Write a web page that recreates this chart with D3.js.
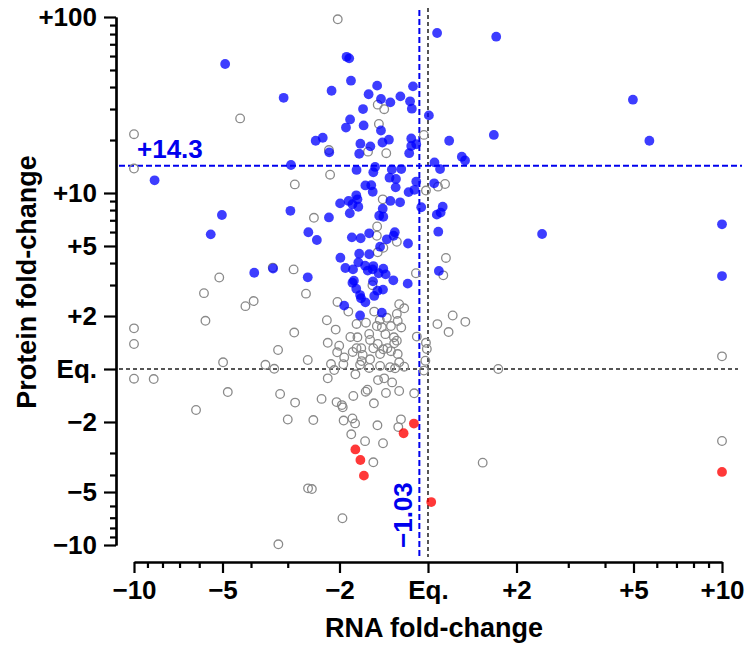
<!DOCTYPE html>
<html>
<head>
<meta charset="utf-8">
<script src="https://cdn.jsdelivr.net/npm/d3@7"></script>
<style>
  html, body { margin: 0; padding: 0; background: #fff; }
  svg { display: block; font-family: "Liberation Sans", Arial, sans-serif; font-weight: bold; }
</style>
</head>
<body>
<div id="chart"></div>
<script>
// every point is [rna, protein], both as signed log10 fold-change (0 = Eq.)

// protein up above the cut-off (blue)
const upPoints = [
  [0.031,1.909],[-0.277,1.774],[-0.268,1.765],[-0.262,1.638],[-0.328,1.581],[-0.491,1.541],
  [-0.173,1.610],[-0.202,1.561],[-0.160,1.534],[-0.128,1.515],[-0.094,1.549],[-0.051,1.606],
  [-0.061,1.521],[-0.055,1.479],[-0.221,1.477],[-0.265,1.418],[0.003,1.441],[-0.279,1.372],
  [-0.219,1.384],[-0.160,1.355],[-0.382,1.297],[-0.358,1.314],[-0.336,1.231],[-0.230,1.280],
  [-0.196,1.265],[-0.234,1.223],[-0.155,1.287],[-0.133,1.303],[-0.057,1.310],[-0.057,1.267],
  [-0.040,1.277],[-0.064,1.226],[-0.466,1.159],[-0.243,1.131],[-0.180,1.148],[-0.186,1.118],
  [-0.123,1.134],[-0.091,1.136],[0.022,1.174],[0.041,1.136],[-0.131,1.087],[-0.109,1.080],
  [-0.213,1.043],[-0.193,1.044],[-0.188,1.007],[-0.110,1.032],[-0.040,1.065],[-0.066,1.005],
  [-0.046,1.018],[0.021,1.055],[-0.244,0.987],[-0.240,0.964],[-0.299,0.941],[-0.270,0.955],
  [-0.257,0.936],[-0.237,0.922],[-0.266,0.885],[-0.468,0.899],[-0.337,0.861],[-0.128,0.955],
  [-0.095,0.947],[-0.154,0.911],[-0.166,0.871],[-0.152,0.865],[-0.023,0.919],[0.030,0.877],
  [0.050,0.922],[0.043,0.889],[0.035,0.780],[0.037,0.557],[0.072,1.297],[0.115,1.206],
  [0.126,1.185],[-0.407,0.777],[-0.378,0.733],[-0.259,0.748],[-0.229,0.743],[-0.200,0.771],
  [-0.113,0.777],[-0.117,0.757],[-0.140,0.737],[-0.068,0.713],[-0.163,0.695],[-0.234,0.655],
  [-0.200,0.652],[-0.298,0.632],[-0.237,0.606],[-0.281,0.574],[-0.255,0.566],[-0.214,0.587],
  [-0.186,0.585],[-0.188,0.566],[-0.152,0.570],[-0.205,0.559],[-0.168,0.544],[-0.144,0.538],
  [-0.187,0.498],[-0.118,0.504],[-0.069,0.485],[-0.252,0.502],[-0.257,0.490],[-0.409,0.521],
  [-0.244,0.456],[-0.172,0.445],[-0.153,0.451],[-0.231,0.420],[-0.228,0.402],[-0.183,0.415],
  [-0.213,0.379],[-0.285,0.360],[-0.157,0.320],[-0.231,0.304],[-0.591,0.547],[-0.527,0.571],
  [-0.690,1.733],[-0.930,1.072],[-0.701,0.875],[-0.739,0.765],[0.232,1.888],[0.697,1.530],
  [0.224,1.330],[0.753,1.297],[0.388,0.767],[1.000,0.822],[1.000,0.528]
];

// protein down (red)
const downPoints = [
  [-0.048,-0.310],[-0.083,-0.365],[-0.247,-0.457],[-0.230,-0.517],[-0.218,-0.606],
  [0.011,-0.756],[1.000,-0.585]
];

// everything else (open grey)
const otherPoints = [
  [-0.307,1.987],[-0.171,1.502],[-0.149,1.476],[-0.167,1.392],[-0.014,1.330],[-0.337,1.244],
  [-0.204,1.235],[-0.142,1.226],[-0.333,1.104],[-0.453,1.049],[-0.007,1.014],[-0.154,0.964],
  [-0.388,0.859],[-0.173,0.810],[0.058,1.051],[0.034,1.036],[0.061,0.631],[0.052,0.532],
  [-0.639,1.424],[-1.000,1.334],[-1.000,1.139],[-0.710,0.520],[-0.762,0.431],[-0.621,0.357],
  [-0.593,0.386],[-0.757,0.274],[-1.000,0.231],[-1.000,0.142],[-0.697,0.038],[-0.553,0.024],
  [-0.523,0.001],[-0.510,0.108],[-1.000,-0.055],[-0.933,-0.057],[-0.681,-0.131],[-0.503,-0.142],
  [-0.789,-0.233],[-0.477,-0.287],[-0.509,-0.996],[-0.528,0.576],[-0.174,0.757],[-0.106,0.723],
  [-0.152,0.689],[-0.171,0.663],[-0.041,0.544],[-0.457,0.566],[-0.415,0.428],[-0.308,0.381],
  [-0.271,0.326],[-0.189,0.476],[-0.098,0.368],[-0.081,0.345],[-0.183,0.326],[-0.106,0.313],
  [-0.344,0.277],[-0.314,0.224],[-0.455,0.207],[-0.243,0.256],[-0.211,0.263],[-0.164,0.278],
  [-0.140,0.291],[-0.174,0.244],[-0.157,0.237],[-0.126,0.244],[-0.091,0.236],[-0.103,0.273],
  [-0.200,0.199],[-0.145,0.198],[-0.264,0.182],[-0.240,0.180],[0.032,0.255],[0.084,0.304],
  [0.127,0.268],[0.070,0.210],[-0.341,0.149],[-0.302,0.132],[-0.038,0.184],[-0.007,0.149],
  [-0.004,0.114],[-0.009,0.047],[-0.014,-0.009],[-0.309,0.095],[-0.256,0.097],[-0.227,0.118],
  [-0.222,0.080],[-0.197,0.165],[-0.171,0.142],[-0.152,0.112],[-0.138,0.118],[-0.115,0.146],
  [-0.106,0.161],[-0.163,0.085],[-0.126,0.101],[-0.103,0.085],[-0.285,0.066],[-0.197,0.055],
  [-0.226,0.045],[-0.409,0.051],[-0.330,0.028],[-0.288,0.027],[-0.231,0.024],[-0.163,0.017],
  [-0.129,0.010],[-0.112,0.004],[-0.098,0.038],[-0.081,0.013],[-0.319,-0.006],[-0.200,0.006],
  [-0.247,-0.030],[-0.341,-0.053],[-0.170,-0.063],[-0.149,-0.053],[-0.122,-0.076],[-0.452,-0.191],
  [-0.362,-0.170],[-0.311,-0.188],[-0.293,-0.205],[-0.290,-0.218],[-0.254,-0.153],[-0.212,-0.129],
  [-0.206,-0.118],[-0.143,-0.136],[-0.098,-0.125],[-0.047,-0.138],[-0.184,-0.195],[-0.390,-0.290],
  [-0.287,-0.293],[-0.257,-0.281],[-0.248,-0.309],[-0.172,-0.320],[-0.092,-0.286],[-0.101,-0.330],
  [-0.261,-0.371],[-0.214,-0.410],[-0.153,-0.422],[-0.186,-0.530],[-0.408,-0.678],[-0.395,-0.682],
  [-0.291,-0.848],[0.239,0.000],[0.186,-0.532],[1.000,0.072],[1.000,-0.409],[-0.243,0.118],
  [-0.186,0.118],[-0.116,0.180]
];

// ticks, written as signed fold-change
const xMinorTicks = [-9, -8, -7, -6, -4, -3, 3, 4, 6, 7, 8, 9];
const xMajorTicks = [-10, -5, -2, 1, 2, 5, 10];
const xTickLabels = ['\u221210', '\u22125', '\u22122', 'Eq.', '+2', '+5', '+10'];
const yMinorTicks = [-9, -8, -7, -6, -4, -3, 3, 4, 6, 7, 8, 9, 20, 30, 40, 50, 60, 70, 80, 90];
const yMajorTicks = [-10, -5, -2, 1, 2, 5, 10, 100];
const yTickLabels = ['\u221210', '\u22125', '\u22122', 'Eq.', '+2', '+5', '+10', '+100'];

// cut-off lines
const proteinCutoff = 14.3;
const proteinCutoffLabel = '+14.3';
const rnaCutoff = -1.07;
const rnaCutoffLabel = '\u22121.03';

// signed fold-change -> log10
const slog = v => v < 0 ? -Math.log10(-v) : Math.log10(v);

class FoldChart {

  constructor({ id, width, height }) {
    this.domId = id;
    this.width = width || 748;
    this.height = height || 645;
    this._init();
  }

  render() {
    this._drawAxes();
    this._drawGuides();
    this._drawPoints();
    this._drawTitles();
  }

  _init() {
    this.x = d3.scaleLinear().domain([-1, 1]).range([134, 722]);
    this.y = d3.scaleLinear().domain([-1, 2]).range([545, 17]);
    this.xAxisY = 562;
    this.yAxisX = 116;

    this.svg = d3.select(`#${this.domId}`)
        .append('svg')
        .attr('width', this.width)
        .attr('height', this.height);
  }

  _drawAxes() {
    const { x, y, svg } = this;
    const style = g => {
      g.selectAll('path, line').attr('stroke', '#000').attr('stroke-width', 2.2);
      g.selectAll('text')
          .attr('fill', '#000')
          .style('font-size', '26px')
          .style('font-family', '"Liberation Sans", Arial, sans-serif')
          .style('font-weight', 'bold');
    };

    // x axis: minor then major
    svg.append('g')
        .attr('transform', `translate(0,${this.xAxisY})`)
        .call(d3.axisBottom(x).tickValues(xMinorTicks.map(slog))
            .tickSize(6).tickSizeOuter(0).tickFormat(''))
        .call(style);
    svg.append('g')
        .attr('transform', `translate(0,${this.xAxisY})`)
        .call(d3.axisBottom(x).tickValues(xMajorTicks.map(slog))
            .tickSize(11).tickSizeOuter(0).tickPadding(8)
            .tickFormat((d, i) => xTickLabels[i]))
        .call(style);

    // y axis
    svg.append('g')
        .attr('transform', `translate(${this.yAxisX},0)`)
        .call(d3.axisLeft(y).tickValues(yMinorTicks.map(slog))
            .tickSize(6).tickSizeOuter(0).tickFormat(''))
        .call(style);
    svg.append('g')
        .attr('transform', `translate(${this.yAxisX},0)`)
        .call(d3.axisLeft(y).tickValues(yMajorTicks.map(slog))
            .tickSize(12).tickSizeOuter(0).tickPadding(7)
            .tickFormat((d, i) => yTickLabels[i]))
        .call(style);
  }

  _drawGuides() {
    const { x, y, svg } = this;
    const g = svg.append('g');
    const left = this.yAxisX + 3;
    const top = y.range()[1] - 8;
    const bottom = this.xAxisY - 5;

    // Eq. lines
    g.append('line')
        .attr('x1', left).attr('x2', x.range()[1] + 16)
        .attr('y1', y(0)).attr('y2', y(0))
        .attr('stroke', '#555').attr('stroke-width', 2).attr('stroke-dasharray', '4,3');
    g.append('line')
        .attr('x1', x(0)).attr('x2', x(0))
        .attr('y1', top - 1).attr('y2', bottom)
        .attr('stroke', '#555').attr('stroke-width', 2).attr('stroke-dasharray', '4,3');

    // cut-offs
    const yc = y(slog(proteinCutoff));
    g.append('line')
        .attr('x1', left).attr('x2', x.range()[1] + 20)
        .attr('y1', yc).attr('y2', yc)
        .attr('stroke', '#0000ee').attr('stroke-width', 2).attr('stroke-dasharray', '6,3');
    const xc = x(slog(rnaCutoff));
    g.append('line')
        .attr('x1', xc).attr('x2', xc)
        .attr('y1', top + 1).attr('y2', bottom)
        .attr('stroke', '#0000ee').attr('stroke-width', 2).attr('stroke-dasharray', '6,3');

    g.append('text')
        .attr('x', left + 18).attr('y', yc - 8)
        .attr('fill', '#0000ee')
        .style('font-size', '26px')
        .text(proteinCutoffLabel);
    g.append('text')
        .attr('transform', `translate(${xc - 7},${bottom - 9}) rotate(-90)`)
        .attr('fill', '#0000ee')
        .style('font-size', '26px')
        .text(rnaCutoffLabel);
  }

  _drawPoints() {
    const { x, y, svg } = this;

    svg.append('g').selectAll('circle')
        .data(otherPoints)
        .join('circle')
        .attr('cx', d => x(d[0]))
        .attr('cy', d => y(d[1]))
        .attr('r', 4.3)
        .attr('fill', 'none')
        .attr('stroke', '#8a8a8a')
        .attr('stroke-width', 1.3);

    svg.append('g').selectAll('circle')
        .data(upPoints)
        .join('circle')
        .attr('cx', d => x(d[0]))
        .attr('cy', d => y(d[1]))
        .attr('r', 4.9)
        .attr('fill', '#0000ff')
        .attr('fill-opacity', 0.76);

    svg.append('g').selectAll('circle')
        .data(downPoints)
        .join('circle')
        .attr('cx', d => x(d[0]))
        .attr('cy', d => y(d[1]))
        .attr('r', 4.9)
        .attr('fill', '#ff0000')
        .attr('fill-opacity', 0.78);
  }

  _drawTitles() {
    const { svg } = this;
    svg.append('text')
        .attr('x', d3.mean(this.x.range()) + 6).attr('y', 637)
        .attr('text-anchor', 'middle')
        .style('font-size', '27px')
        .text('RNA fold-change');
    svg.append('text')
        .attr('transform', `translate(36,${d3.mean(this.y.range()) + 1}) rotate(-90)`)
        .attr('text-anchor', 'middle')
        .style('font-size', '27px')
        .text('Protein fold-change');
  }
}

new FoldChart({ id: 'chart', width: 748, height: 645 }).render();
</script>
</body>
</html>
